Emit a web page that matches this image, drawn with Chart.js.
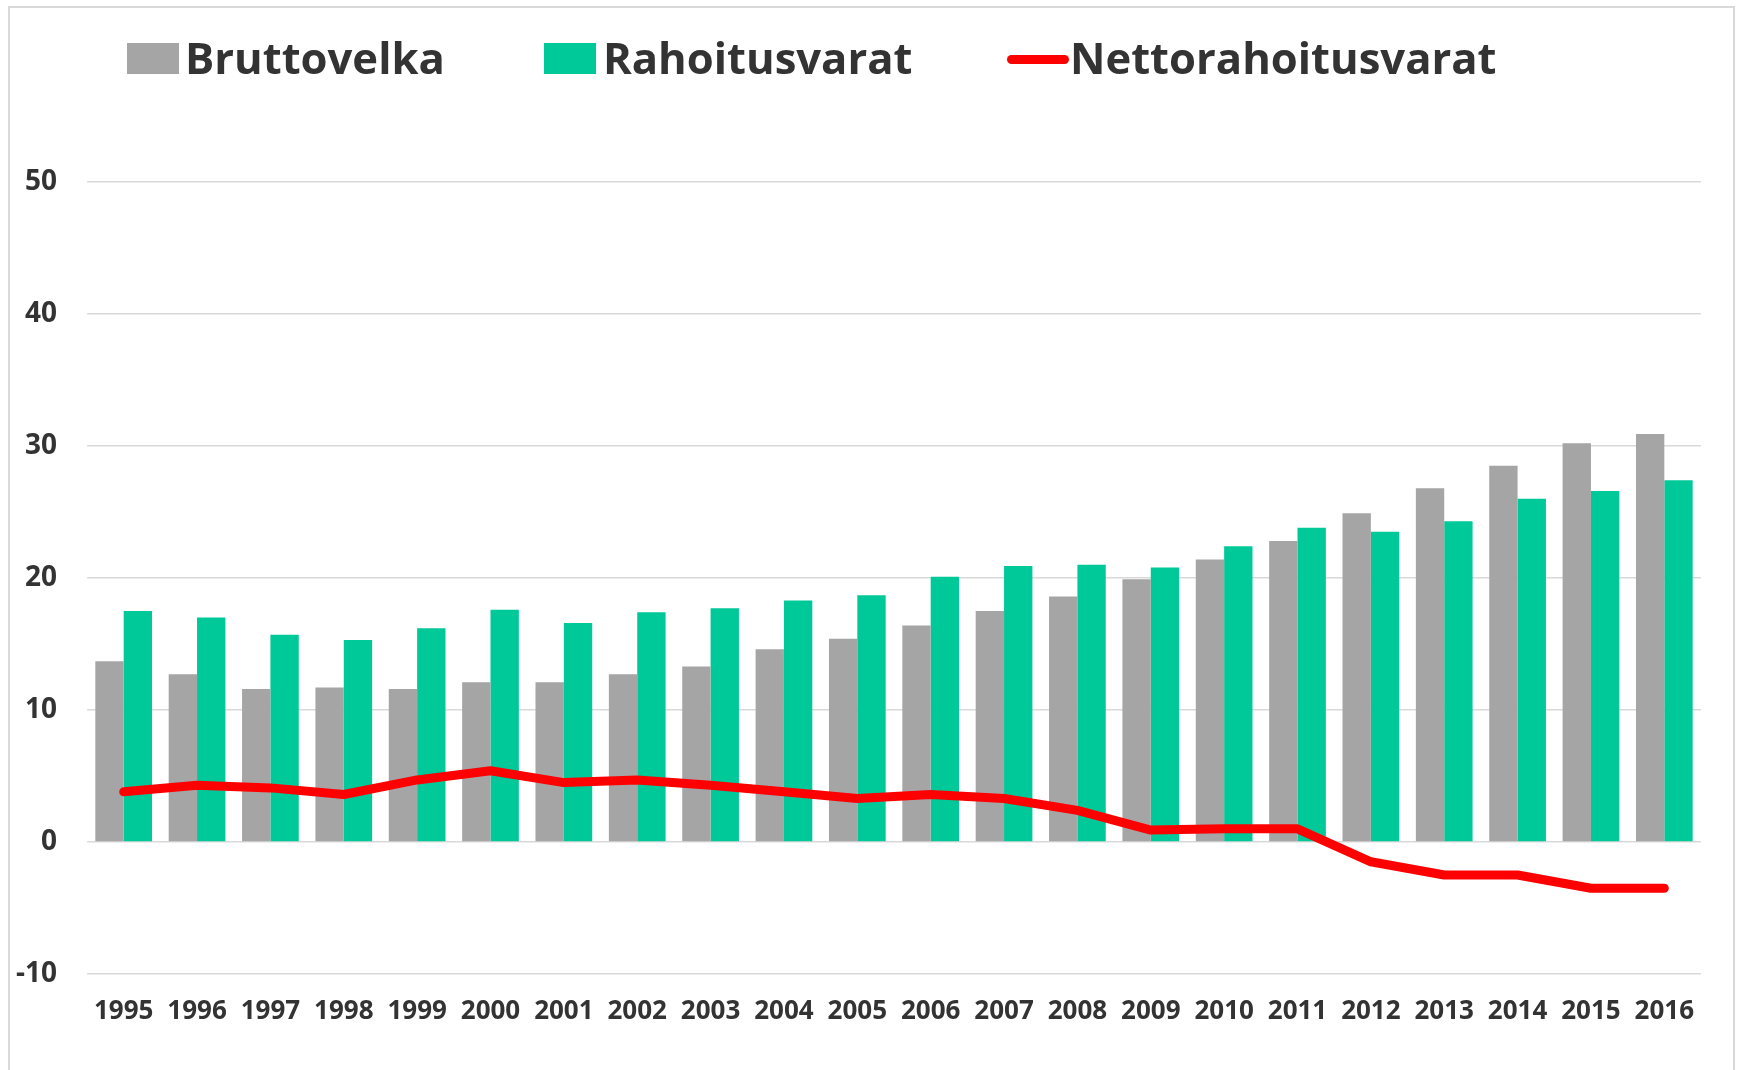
<!DOCTYPE html>
<html>
<head>
<meta charset="utf-8">
<script src="https://cdn.jsdelivr.net/npm/chart.js@4/dist/chart.umd.min.js"></script>
<style>
    html, body { margin: 0; padding: 0; background: #fff; overflow: hidden; }
    .frame {
        position: absolute; left: 8px; top: 6px; width: 1727px; height: 1100px;
        border: 2px solid #d9d9d9; box-sizing: border-box;
    }
    .wrap { position: absolute; left: 0; top: 0; width: 1739px; height: 1070px; }
    .legend span { position: absolute; }
    .legend .txt {
        font-family: 'Open Sans', sans-serif; font-weight: 700; font-size: 43.6px;
        line-height: 1; color: #333; top: 36px; white-space: nowrap;
    }
    .legend .box { top: 43px; width: 52px; height: 31px; }
    .legend .ln { top: 55px; width: 62px; height: 9px; border-radius: 5px; background: #ff0000; }
</style>
</head>
<body>
<div class="frame"></div>
<div class="wrap"><canvas id="chart"></canvas></div>
<div class="legend">
    <span class="box" style="left:127px;background:#a5a5a5"></span>
    <span class="txt" style="left:185px">Bruttovelka</span>
    <span class="box" style="left:544px;background:#00c999"></span>
    <span class="txt" style="left:603px">Rahoitusvarat</span>
    <span class="ln" style="left:1007px"></span>
    <span class="txt" style="left:1070px">Nettorahoitusvarat</span>
</div>
<script>
// Data
const years = ['1995', '1996', '1997', '1998', '1999', '2000', '2001', '2002', '2003', '2004', '2005',
    '2006', '2007', '2008', '2009', '2010', '2011', '2012', '2013', '2014', '2015', '2016'];
const bruttovelka = [13.7, 12.7, 11.6, 11.7, 11.6, 12.1, 12.1, 12.7, 13.3, 14.6, 15.4,
    16.4, 17.5, 18.6, 19.9, 21.4, 22.8, 24.9, 26.8, 28.5, 30.2, 30.9];
const rahoitusvarat = [17.5, 17.0, 15.7, 15.3, 16.2, 17.6, 16.6, 17.4, 17.7, 18.3, 18.7,
    20.1, 20.9, 21.0, 20.8, 22.4, 23.8, 23.5, 24.3, 26.0, 26.6, 27.4];
const nettorahoitusvarat = [3.8, 4.3, 4.1, 3.6, 4.7, 5.4, 4.5, 4.7, 4.3, 3.8, 3.3,
    3.6, 3.3, 2.4, 0.9, 1.0, 1.0, -1.5, -2.5, -2.5, -3.5, -3.5];
const yMin = -10;
const yMax = 50;
const yStep = 10;

const textColor = '#333333';
const gridColor = '#d9d9d9';
const fontFamily = "'Open Sans', sans-serif";

new Chart(document.getElementById('chart'), {
    data: {
        labels: years,
        datasets: [
            {
                type: 'line',
                label: 'Nettorahoitusvarat',
                data: nettorahoitusvarat,
                borderColor: '#ff0000',
                backgroundColor: '#ff0000',
                borderWidth: 9,
                pointRadius: 0,
                tension: 0,
                borderCapStyle: 'round',
                borderJoinStyle: 'round',
                order: 0
            },
            {
                type: 'bar',
                label: 'Bruttovelka',
                data: bruttovelka,
                backgroundColor: '#a5a5a5',
                barPercentage: 1,
                categoryPercentage: 0.773,
                order: 1
            },
            {
                type: 'bar',
                label: 'Rahoitusvarat',
                data: rahoitusvarat,
                backgroundColor: '#00c999',
                barPercentage: 1,
                categoryPercentage: 0.773,
                order: 2
            }
        ]
    },
    options: {
        responsive: true,
        maintainAspectRatio: false,
        animation: false,
        layout: { padding: { left: 0, top: 182, right: 38, bottom: 0 } },
        plugins: {
            legend: { display: false },
            tooltip: { enabled: false }
        },
        scales: {
            y: {
                min: yMin,
                max: yMax,
                border: { display: false },
                grid: { color: gridColor, lineWidth: 1.5, drawTicks: false },
                ticks: {
                    stepSize: yStep,
                    padding: 30,
                    color: textColor,
                    font: { family: fontFamily, size: 28, weight: '700' }
                },
                afterFit: (scale) => { scale.width = 87; }
            },
            x: {
                border: { display: false },
                grid: { display: false, drawTicks: false },
                ticks: {
                    padding: 22,
                    maxRotation: 0,
                    autoSkip: false,
                    color: textColor,
                    font: { family: fontFamily, size: 26, weight: '700' }
                },
                afterFit: (scale) => { scale.height = 96; }
            }
        }
    }
});
</script>
</body>
</html>
